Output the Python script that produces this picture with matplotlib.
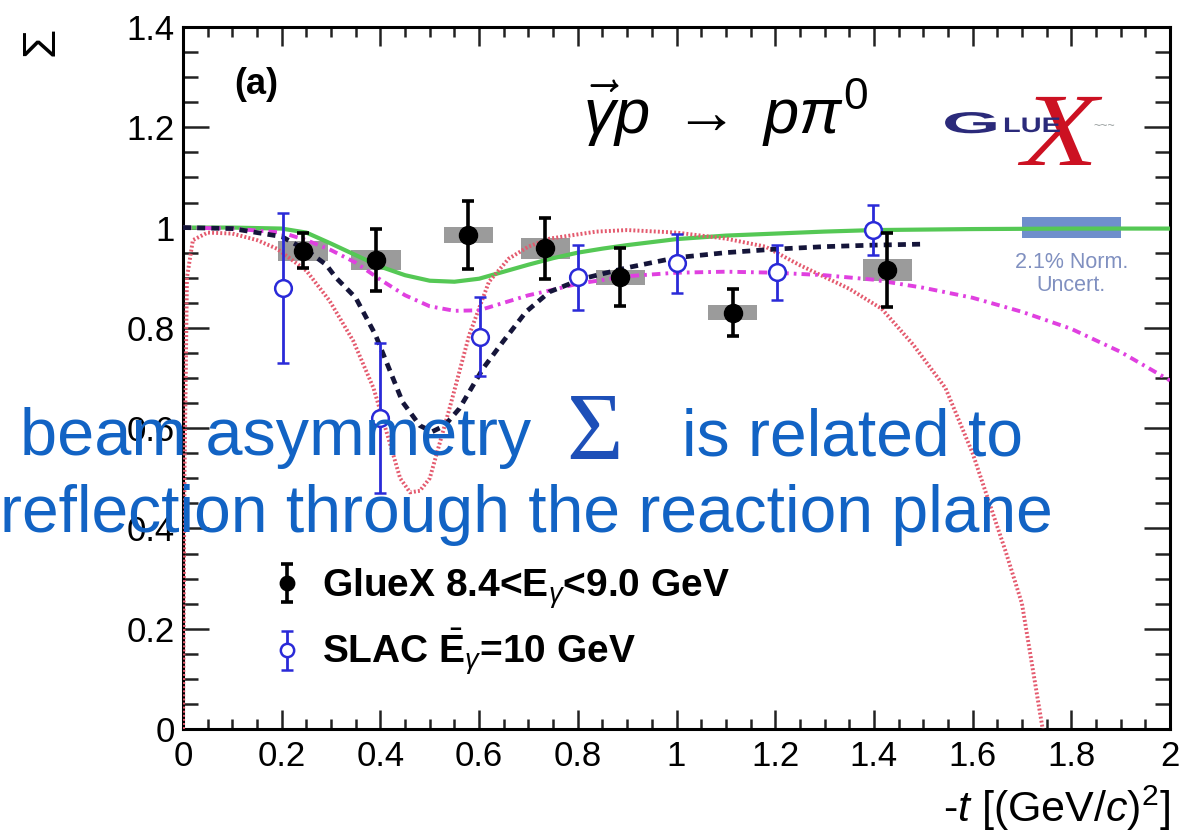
import matplotlib
matplotlib.use("Agg")
import matplotlib.pyplot as plt
from matplotlib.patches import Rectangle, PathPatch
from matplotlib.textpath import TextPath
from matplotlib.font_manager import FontProperties
from matplotlib.transforms import Affine2D, IdentityTransform
from matplotlib.ticker import MultipleLocator, FuncFormatter

plt.rcParams['font.family'] = ['Liberation Sans', 'DejaVu Sans']
plt.rcParams['mathtext.fontset'] = 'custom'
plt.rcParams['mathtext.rm'] = 'Liberation Sans'
plt.rcParams['mathtext.it'] = 'Liberation Sans:italic'
plt.rcParams['mathtext.bf'] = 'Liberation Sans:bold'

# ---- GlueX beam asymmetry, 8.4 < E_gamma < 9.0 GeV ----
gluex_t = [0.243, 0.391, 0.578, 0.734, 0.886, 1.114, 1.427]
gluex_sigma = [0.954, 0.936, 0.985, 0.959, 0.901, 0.830, 0.915]
gluex_stat = [0.035, 0.062, 0.068, 0.061, 0.058, 0.047, 0.074]
gluex_sys = [0.020, 0.020, 0.016, 0.021, 0.015, 0.015, 0.022]

# ---- SLAC, mean E_gamma = 10 GeV ----
slac_t = [0.203, 0.400, 0.602, 0.800, 1.000, 1.204, 1.398]
slac_sigma = [0.880, 0.620, 0.782, 0.901, 0.929, 0.911, 0.995]
slac_err = [0.150, 0.150, 0.079, 0.065, 0.059, 0.055, 0.050]

# ---- model predictions ----
green_t = [0.0, 0.1, 0.2, 0.25, 0.3, 0.35, 0.4, 0.45, 0.5, 0.55, 0.6, 0.65,
           0.7, 0.75, 0.8, 0.85, 0.9, 1.0, 1.1, 1.2, 1.3, 1.4, 1.6, 1.8, 2.0]
green_sigma = [1.0, 1.0, 0.998, 0.99, 0.968, 0.945, 0.922, 0.905, 0.894, 0.892,
               0.898, 0.912, 0.926, 0.939, 0.95, 0.958, 0.965, 0.977, 0.984,
               0.988, 0.992, 0.995, 0.997, 0.998, 0.998]

navy_t = [0.0, 0.1, 0.2, 0.25, 0.29, 0.31, 0.35, 0.39, 0.445, 0.48, 0.505,
          0.53, 0.56, 0.608, 0.648, 0.695, 0.743, 0.81, 0.9, 1.0, 1.1, 1.2,
          1.3, 1.4, 1.5]
navy_sigma = [1.0, 0.998, 0.982, 0.955, 0.926, 0.90, 0.86, 0.786, 0.652, 0.605,
              0.593, 0.605, 0.639, 0.719, 0.772, 0.832, 0.872, 0.898, 0.92,
              0.94, 0.95, 0.957, 0.962, 0.965, 0.967]

red_t = [0.0, 0.003, 0.008, 0.02, 0.05, 0.1, 0.15, 0.19, 0.25, 0.297, 0.345,
         0.386, 0.418, 0.44, 0.46, 0.48, 0.5, 0.54, 0.58, 0.62, 0.66, 0.7,
         0.743, 0.838, 0.9, 1.0, 1.1, 1.18, 1.25, 1.35, 1.416, 1.48, 1.545,
         1.6, 1.667, 1.7, 1.742]
red_sigma = [0.0, 0.5, 0.9, 0.975, 0.99, 0.988, 0.975, 0.958, 0.914, 0.854,
             0.774, 0.68, 0.574, 0.5, 0.472, 0.475, 0.5, 0.639, 0.786, 0.892,
             0.938, 0.962, 0.978, 0.992, 0.995, 0.99, 0.978, 0.962, 0.925,
             0.878, 0.838, 0.766, 0.68, 0.55, 0.354, 0.25, 0.0]

magenta_t = [0.0, 0.1, 0.2, 0.25, 0.3, 0.35, 0.4, 0.45, 0.5, 0.55, 0.6, 0.65,
             0.7, 0.75, 0.8, 0.9, 1.0, 1.1, 1.2, 1.3, 1.4, 1.5, 1.6, 1.7,
             1.8, 1.9, 2.0]
magenta_sigma = [1.0, 0.998, 0.99, 0.975, 0.955, 0.93, 0.896, 0.865, 0.843,
                 0.834, 0.835, 0.85, 0.865, 0.876, 0.888, 0.903, 0.91, 0.912,
                 0.91, 0.905, 0.896, 0.88, 0.86, 0.832, 0.798, 0.752, 0.695]

# overall normalisation uncertainty band
norm_uncert = 0.021
norm_t_range = (1.7, 1.9)

x_ticks = [0, 0.2, 0.4, 0.6, 0.8, 1.0, 1.2, 1.4, 1.6, 1.8, 2.0]
y_ticks = [0, 0.2, 0.4, 0.6, 0.8, 1.0, 1.2, 1.4]

W, H = 1181, 839
fig = plt.figure(figsize=(W / 100, H / 100), dpi=100)
ax = fig.add_axes([183 / W, 1 - 729 / H, (1170 - 183) / W, (729 - 27) / H])


def fpos(x, y):
    """pixel position (from top-left) -> figure fraction"""
    return x / W, 1 - y / H


def stretched_text(s, x, y, size, sx, sy, color, weight='bold',
                   family='Liberation Sans', style='normal'):
    """glyph outline placed with its baseline-left at pixel (x, y), scaled"""
    prop = FontProperties(family=family, weight=weight, style=style)
    path = TextPath((0, 0), s, size=size, prop=prop)
    tr = Affine2D().scale(sx, sy).translate(x, H - y)
    fig.add_artist(PathPatch(path, transform=tr + IdentityTransform(),
                             facecolor=color, edgecolor='none'))


ax.set_xlim(0, 2)
ax.set_ylim(0, 1.4)

# systematic boxes
box_half = 0.05
for t, s, e in zip(gluex_t, gluex_sigma, gluex_sys):
    ax.add_patch(Rectangle((t - box_half, s - e), 2 * box_half, 2 * e,
                           facecolor='#8a8a8a', edgecolor='none', alpha=0.85,
                           zorder=2))

# normalisation band
ax.add_patch(Rectangle((norm_t_range[0], 1 - norm_uncert),
                       norm_t_range[1] - norm_t_range[0], 2 * norm_uncert,
                       facecolor='#6f8fcc', edgecolor='none', zorder=3))
ax.text(sum(norm_t_range) / 2, 0.93, '2.1% Norm.', ha='center', va='center',
        fontsize=15.5, color='#8090c0', zorder=3)
ax.text(sum(norm_t_range) / 2, 0.885, 'Uncert.', ha='center', va='center',
        fontsize=15.5, color='#8090c0', zorder=3)

# model curves
ax.plot(green_t, green_sigma, color='#55c855', lw=3.0, zorder=3,
        solid_capstyle='butt')
ax.plot(red_t, red_sigma, color='#e45a6e', lw=2.8, dashes=(0.5, 0.55),
        zorder=3)
ax.plot(magenta_t, magenta_sigma, color='#e040e0', lw=2.8,
        dashes=(2.2, 1.3, 0.7, 1.3), zorder=3)
ax.plot(navy_t, navy_sigma, color='#15153a', lw=3.4, dashes=(1.7, 1.3),
        zorder=3)

# data
h_slac = ax.errorbar(slac_t, slac_sigma, yerr=slac_err, fmt='o', ms=12,
                     mfc='white', mec='#2a2ad8', mew=1.8, color='#2a2ad8',
                     elinewidth=2.0, capsize=4, capthick=2.0, zorder=4)
h_gluex = ax.errorbar(gluex_t, gluex_sigma, yerr=gluex_stat, fmt='o', ms=13,
                      color='black', elinewidth=2.6, capsize=4, capthick=2.6,
                      zorder=5)

# axes style
for sp in ax.spines.values():
    sp.set_linewidth(2.2)
ax.xaxis.set_minor_locator(MultipleLocator(0.05))
ax.yaxis.set_minor_locator(MultipleLocator(0.05))
ax.set_xticks(x_ticks)
ax.set_yticks(y_ticks)
fmt = FuncFormatter(lambda v, p: '%g' % round(v, 3))
ax.xaxis.set_major_formatter(fmt)
ax.yaxis.set_major_formatter(fmt)
ax.tick_params(axis='both', which='both', direction='in', top=True,
               right=True, width=1.8, labelsize=25, color='#222222')
ax.tick_params(axis='x', which='major', length=14, pad=8)
ax.tick_params(axis='x', which='minor', length=7)
ax.tick_params(axis='y', which='major', length=19, pad=6)
ax.tick_params(axis='y', which='minor', length=11)

# axis titles
fig.text(*fpos(1170, 808), r'-$t$ [(GeV/$c$)$^{2}$]', ha='right',
         va='center', fontsize=31)
fig.text(*fpos(42, 41), 'Σ', rotation=90, ha='center', va='center',
         fontsize=34)

# panel annotations
fig.text(*fpos(256, 84), '(a)', ha='center', va='center', fontsize=26,
         fontweight='bold')
fig.text(*fpos(726, 113), r'$\vec{\gamma}p\;\rightarrow\;p\pi^{0}$',
         ha='center', va='center', fontsize=45.5)

# GlueX logo (red X behind the lettering)
stretched_text('X', 1022, 165, 104, 1.2, 1.0, '#cc1122', weight='normal',
               family='Liberation Serif', style='italic')
stretched_text('G', 942, 133, 30, 2.5, 1.0, '#2b2a7a')
stretched_text('LUE', 1003, 132, 21, 1.38, 1.0, '#2b2a7a')
fig.text(*fpos(1104, 126), '~~~', ha='center', va='center', fontsize=9,
         color='#9aa0a0')

# legend
leg = ax.legend([h_gluex, h_slac],
                [r'GlueX 8.4<E$_{\gamma}$<9.0 GeV',
                 r'SLAC $\bar{\mathbf{E}}_{\gamma}$=10 GeV'],
                loc='center left', bbox_to_anchor=(0.088, 0.152),
                frameon=False, handlelength=0.9, handletextpad=0.45,
                labelspacing=0.42, borderpad=0, borderaxespad=0,
                prop={'weight': 'bold', 'size': 28}, markerscale=0.8)

# overlay statement
blue = '#1263c4'
fig.text(*fpos(20, 455), 'beam asymmetry', ha='left', va='baseline',
         fontsize=48, color=blue)
fig.text(*fpos(566, 460), 'Σ', ha='left', va='baseline', fontsize=70,
         family='Liberation Serif', color='#1d4fb8')
fig.text(*fpos(682, 455), 'is related to', ha='left', va='baseline',
         fontsize=47.5, color=blue)
fig.text(*fpos(0, 532), 'reflection through the reaction plane',
         ha='left', va='baseline', fontsize=47.5, color=blue)

fig.savefig('out.png', dpi=100)
